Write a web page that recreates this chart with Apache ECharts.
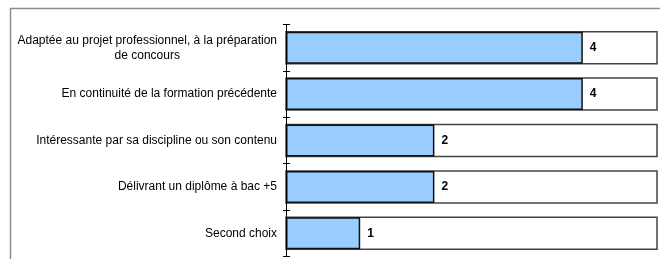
<!DOCTYPE html>
<html>
<head>
<meta charset="utf-8">
<script src="https://cdn.jsdelivr.net/npm/echarts@6/dist/echarts.min.js"></script>
<style>
  html, body { margin: 0; padding: 0; background: #fff; }
  #chart { width: 660px; height: 259px; }
</style>
</head>
<body>
<div id="chart"></div>
<script>
// categories, top to bottom
const categories = [
  'Adaptée au projet professionnel, à la préparation\nde concours',
  'En continuité de la formation précédente',
  'Intéressante par sa discipline ou son contenu',
  'Délivrant un diplôme à bac +5',
  'Second choix'
]
const counts = [4, 4, 2, 2, 1]
const axisMax = 5

const chart = echarts.init(document.getElementById('chart'))

chart.setOption({
  animation: false,
  textStyle: { fontFamily: 'Liberation Sans, Arial, sans-serif' },
  graphic: [
    {
      // outer frame, only left and top edges fall inside the picture
      type: 'rect',
      shape: { x: 10.5, y: 8.5, width: 700, height: 300 },
      style: { fill: null, stroke: '#8c8c8c', lineWidth: 1.5 },
      silent: true
    }
  ],
  grid: { left: 286, right: 3, top: 24.5, bottom: 2.5 },
  xAxis: {
    type: 'value',
    min: 0,
    max: axisMax,
    show: false
  },
  yAxis: [
    {
      type: 'category',
      data: categories,
      inverse: true,
      z: 5,
      axisLine: { show: true, lineStyle: { color: '#000', width: 1 } },
      axisTick: { show: true, length: 3, lineStyle: { color: '#000', width: 1 } },
      axisLabel: {
        margin: 9,
        color: '#000',
        fontSize: 12,
        lineHeight: 15,
        formatter: v => v.split('\n').map(l => '{c|' + l + '}').join('\n'),
        rich: { c: { align: 'center', fontSize: 12, lineHeight: 15, color: '#000' } }
      }
    },
    {
      // second axis only to draw the inner half of the ticks
      type: 'category',
      data: categories,
      inverse: true,
      position: 'left',
      z: 5,
      axisLine: { show: false },
      axisTick: { show: true, inside: true, length: 4, lineStyle: { color: '#000', width: 1 } },
      axisLabel: { show: false }
    }
  ],
  series: [
    {
      type: 'bar',
      data: counts,
      barWidth: 32,
      itemStyle: { color: '#99ccff', borderColor: '#111', borderWidth: 1.5 },
      showBackground: true,
      backgroundStyle: { color: '#fff', borderColor: '#444', borderWidth: 1.5 },
      label: {
        show: true,
        position: 'right',
        distance: 7,
        color: '#000',
        fontWeight: 'bold',
        fontSize: 12
      }
    }
  ]
})
</script>
</body>
</html>
